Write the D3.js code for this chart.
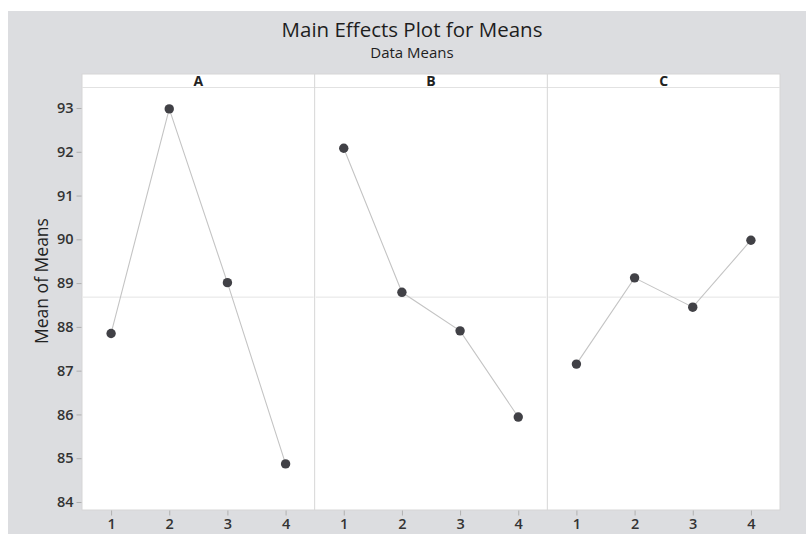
<!DOCTYPE html>
<html>
<head>
<meta charset="utf-8">
<script src="https://cdn.jsdelivr.net/npm/d3@7"></script>
<style>
  html, body { margin: 0; padding: 0; background: #ffffff; }
  svg { display: block; }
  text { font-family: "Open Sans", "Noto Sans", sans-serif; }
</style>
</head>
<body>
<svg id="chart" width="806" height="534"></svg>
<script>
// ---- Data ----
const factors = ["A", "B", "C"];
const levels = [1, 2, 3, 4];
const meansA = [87.85, 92.98, 89.01, 84.87];
const meansB = [92.08, 88.79, 87.91, 85.94];
const meansC = [87.15, 89.12, 88.45, 89.98];
const grandMean = 88.68;
const yTicks = [84, 85, 86, 87, 88, 89, 90, 91, 92, 93];
const titleText = "Main Effects Plot for Means";
const subtitleText = "Data Means";
const yLabelText = "Mean of Means";

const seriesByFactor = { A: meansA, B: meansB, C: meansC };

// ---- Layout ----
const W = 806, H = 534;
const plotLeft = 82, plotRight = 780, stripTop = 74, stripBottom = 88, plotBottom = 510;
const panelW = (plotRight - plotLeft) / factors.length;

const svg = d3.select("#chart");

// background
svg.append("rect").attr("x", 8).attr("y", 11).attr("width", W - 8).attr("height", H - 11)
  .attr("fill", "#dcdde0");

// title
svg.append("text").attr("x", 412).attr("y", 37).attr("text-anchor", "middle")
  .attr("font-size", 20.5).attr("fill", "#1e1e1e").text(titleText);
svg.append("text").attr("x", 412).attr("y", 57.5).attr("text-anchor", "middle")
  .attr("font-size", 15).attr("fill", "#1e1e1e").text(subtitleText);

// white plot area
svg.append("rect").attr("x", plotLeft).attr("y", stripTop)
  .attr("width", plotRight - plotLeft).attr("height", plotBottom - stripTop)
  .attr("fill", "#ffffff").attr("stroke", "#d6d6d6").attr("stroke-width", 1);

// y scale
const y = d3.scaleLinear().domain([83.817, 93.457]).range([plotBottom, stripBottom]);

// y axis
const yAxis = d3.axisLeft(y).tickValues(yTicks).tickSize(5).tickPadding(3).tickFormat(d3.format("d"));
const gy = svg.append("g").attr("transform", `translate(${plotLeft - 0.5},0)`).call(yAxis);
gy.select(".domain").remove();
gy.selectAll(".tick line").attr("stroke", "#b0b0b0");
gy.selectAll(".tick text").attr("font-size", 14.5).attr("font-weight", 600).attr("fill", "#333")
  .attr("font-family", "'Open Sans', sans-serif");

// y label
svg.append("text").attr("transform", `translate(48,${281}) rotate(-90)`)
  .attr("text-anchor", "middle").attr("font-size", 17.5).attr("fill", "#222").text(yLabelText);

// strip line
svg.append("line").attr("x1", plotLeft).attr("x2", plotRight)
  .attr("y1", stripBottom - 0.5).attr("y2", stripBottom - 0.5)
  .attr("stroke", "#e2e2e2");

// panels
factors.forEach((f, i) => {
  const x0 = plotLeft + i * panelW;
  const x = d3.scaleLinear().domain([0.5, 4.5]).range([x0, x0 + panelW]);

  // divider
  if (i > 0) {
    svg.append("line").attr("x1", x0).attr("x2", x0).attr("y1", stripTop).attr("y2", plotBottom)
      .attr("stroke", "#d6d6d6").attr("stroke-width", 1);
  }
  // header
  svg.append("text").attr("x", x0 + panelW / 2).attr("y", 86).attr("text-anchor", "middle")
    .attr("font-size", 14).attr("font-weight", "bold").attr("fill", "#222").text(f);

  // reference line
  svg.append("line").attr("x1", x0 + 1).attr("x2", x0 + panelW - 1)
    .attr("y1", y(grandMean)).attr("y2", y(grandMean))
    .attr("stroke", "#e4e4e4").attr("stroke-width", 1);

  // x axis
  const xAxis = d3.axisBottom(x).tickValues(levels).tickSize(5).tickPadding(3).tickFormat(d3.format("d"));
  const gx = svg.append("g").attr("transform", `translate(0,${plotBottom + 0.5})`).call(xAxis);
  gx.select(".domain").remove();
  gx.selectAll(".tick line").attr("stroke", "#b0b0b0");
  gx.selectAll(".tick text").attr("font-size", 14.5).attr("font-weight", 600).attr("fill", "#333")
    .attr("font-family", "'Open Sans', sans-serif");

  const vals = seriesByFactor[f];
  const pts = levels.map((l, j) => [l, vals[j]]);
  const line = d3.line().x(d => x(d[0])).y(d => y(d[1]));
  svg.append("path").datum(pts).attr("d", line).attr("fill", "none")
    .attr("stroke", "#c4c4c4").attr("stroke-width", 1.1);
  svg.selectAll(null).data(pts).enter().append("circle")
    .attr("cx", d => x(d[0])).attr("cy", d => y(d[1])).attr("r", 4.7)
    .attr("fill", "#414146");
});
</script>
</body>
</html>
